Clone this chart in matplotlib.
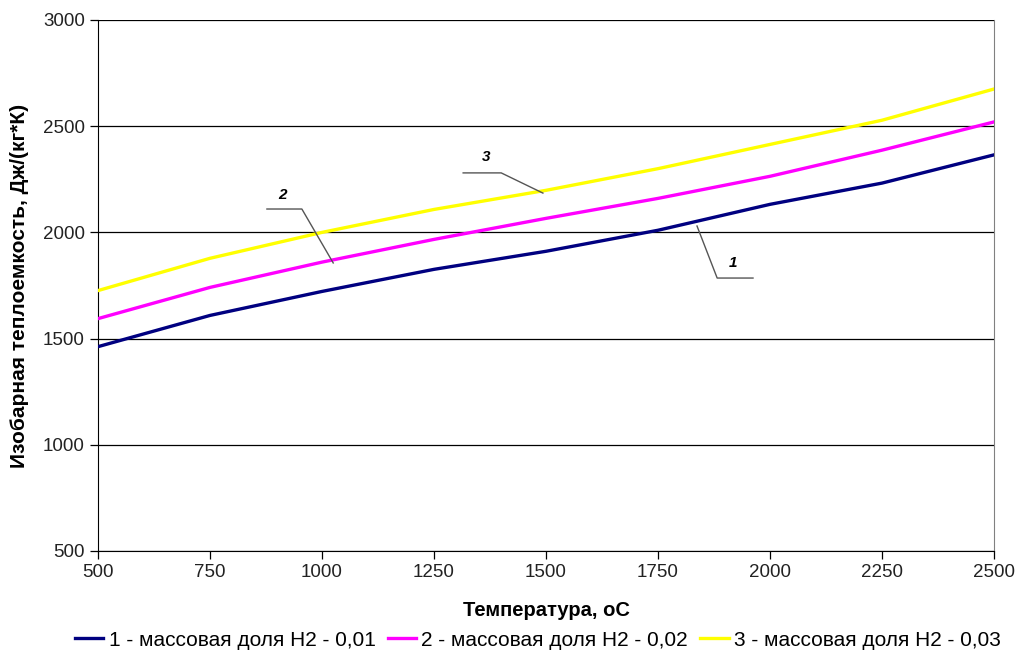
import matplotlib.pyplot as plt

plt.rcParams['font.family'] = ['Liberation Sans', 'DejaVu Sans']

# температура, оС
temp = [500, 750, 1000, 1250, 1500, 1750, 2000, 2250, 2500]
# теплоемкость для разных долей H2
cp_001 = [1462, 1609, 1722, 1826, 1911, 2010, 2132, 2232, 2365]
cp_002 = [1594, 1741, 1860, 1967, 2066, 2160, 2264, 2387, 2520]
cp_003 = [1726, 1878, 2000, 2108, 2198, 2300, 2414, 2528, 2675]

labels = ['1 - массовая доля Н2 - 0,01',
          '2 - массовая доля Н2 - 0,02',
          '3 - массовая доля Н2 - 0,03']
colors = ['#000080', '#ff00ff', '#ffff00']

x_ticks = [500, 750, 1000, 1250, 1500, 1750, 2000, 2250, 2500]
y_ticks = [500, 1000, 1500, 2000, 2500, 3000]

fig = plt.figure(figsize=(10.19, 6.59), dpi=100)
ax = fig.add_axes([0.0962, 0.1639, 0.8793, 0.8058])

for vals, c, lab in zip([cp_001, cp_002, cp_003], colors, labels):
    ax.plot(temp, vals, color=c, lw=2.4, label=lab, zorder=3)

ax.set_xlim(500, 2500)
ax.set_ylim(500, 3000)
ax.set_xticks(x_ticks)
ax.set_yticks(y_ticks)
ax.yaxis.grid(True, color='black', lw=0.9)
ax.set_axisbelow(True)

ax.spines['left'].set_color('black')
ax.spines['bottom'].set_color('black')
ax.spines['right'].set_color('#808080')
ax.spines['top'].set_visible(False)
ax.tick_params(direction='out', length=6, width=0.9, labelsize=13.5,
               colors='black', labelcolor='#222222')

ax.set_xlabel('Температура, оС', fontsize=14.5, fontweight='bold', labelpad=14)
ax.set_ylabel('Изобарная теплоемкость, Дж/(кг*К)', fontsize=15,
              fontweight='bold', labelpad=10)

# выноски с номерами кривых
leaders = [
    ([1837, 1882, 1962], [2030, 1785, 1785], (1917, 1856), '1'),
    ([877, 955, 1025], [2110, 2110, 1856], (911, 2176), '2'),
    ([1315, 1400, 1493], [2280, 2280, 2185], (1366, 2355), '3'),
]
for xs, ys, pos, txt in leaders:
    ax.plot(xs, ys, color='#555555', lw=1.0, zorder=4)
    ax.text(pos[0], pos[1], txt, fontsize=11, fontweight='bold',
            fontstyle='italic', ha='center', va='center')

ax.legend(loc='center', bbox_to_anchor=(0.491, -0.168),
          ncol=3, frameon=False, fontsize=15, handlelength=1.35,
          handletextpad=0.25, columnspacing=0.6, borderpad=0,
          borderaxespad=0)

fig.savefig('out.png', dpi=100)
